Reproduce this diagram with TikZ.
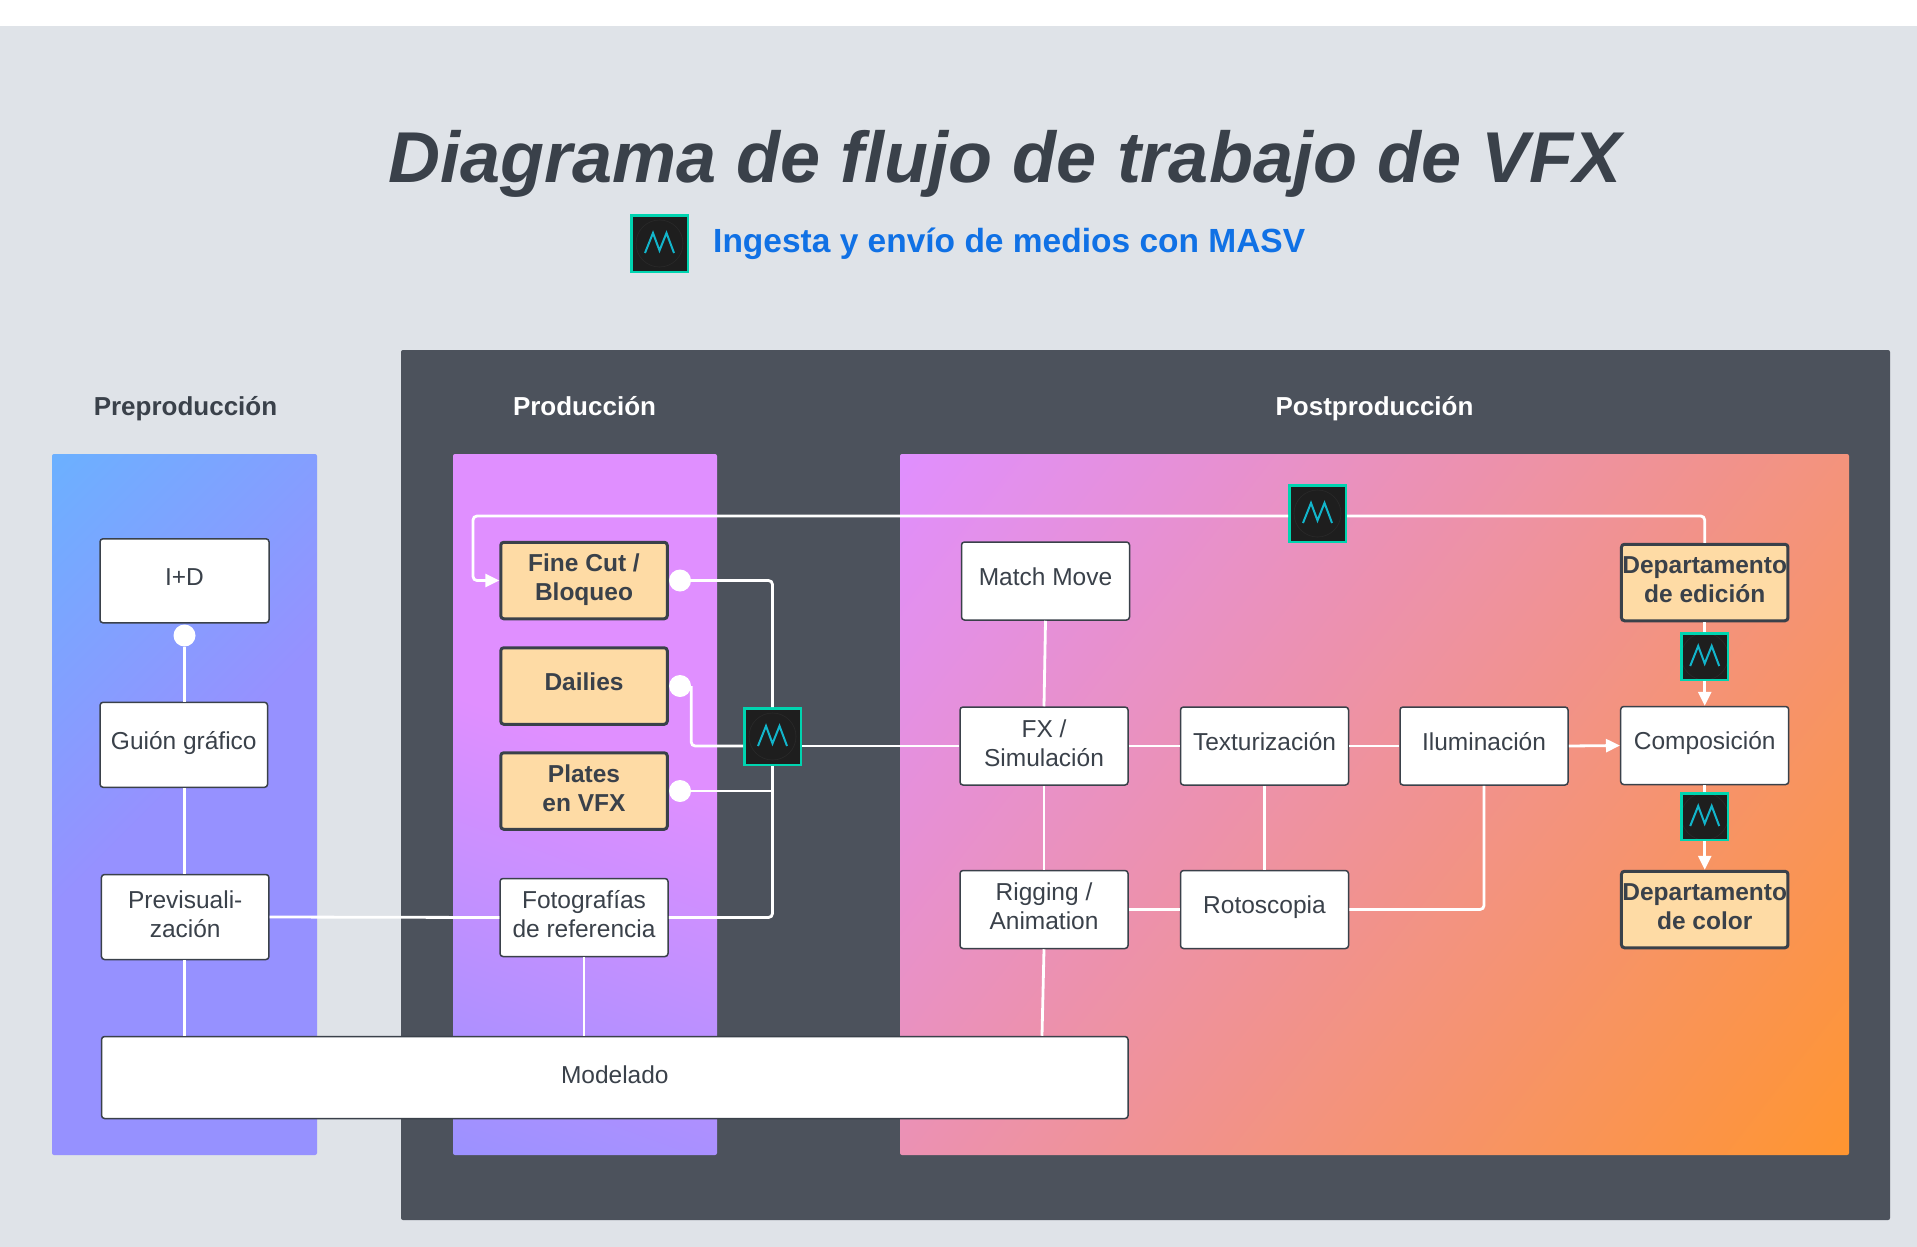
\documentclass[tikz,border=0pt]{standalone}
\usepackage{fontspec}
\setmainfont{Liberation Sans}
\usetikzlibrary{positioning,arrows.meta}

\definecolor{pagegray}{HTML}{DFE3E8}
\definecolor{paneldark}{HTML}{4C525C}
\definecolor{inkdark}{HTML}{3A414A}
\definecolor{keyfill}{HTML}{FEDBA5}
\definecolor{masvdark}{HTML}{1E1E1E}
\definecolor{masvring}{HTML}{2A2A2A}
\definecolor{masvgreen}{HTML}{00D4B0}
\definecolor{masvcyan}{HTML}{12B5CB}
\definecolor{subblue}{HTML}{1071E5}
\definecolor{skyblue}{HTML}{6CB0FF}
\definecolor{violet}{HTML}{9691FF}
\definecolor{pinkish}{HTML}{E08FFF}
\definecolor{orangish}{HTML}{FF9530}

\pgfdeclarehorizontalshading{prefill}{100bp}{color(0bp)=(skyblue); color(15bp)=(skyblue); color(48bp)=(violet); color(100bp)=(violet)}
\pgfdeclarehorizontalshading{prodfill}{100bp}{color(0bp)=(violet); color(15bp)=(violet); color(55bp)=(pinkish); color(100bp)=(pinkish)}
\pgfdeclarehorizontalshading{postfill}{100bp}{color(0bp)=(pinkish); color(15bp)=(pinkish); color(85bp)=(orangish); color(100bp)=(orangish)}

\newcommand{\tx}[1]{\begin{tabular}{@{}c@{}}#1\end{tabular}}
\newcommand{\txone}[1]{\tx{#1\\[3pt]}}

\begin{document}
\begin{tikzpicture}
    [%%%%%%%%%%%%%%%%%%%%%%%%%%%%%%
    x=1pt,y=-1pt,
    box/.style={rectangle,draw=inkdark,line width=1.5pt,fill=white,rounded corners=3pt,inner sep=0pt,
        text=inkdark,minimum width=168pt,minimum height=78pt,font=\fontsize{24.5}{29}\selectfont},
    keybox/.style={box,fill=keyfill,line width=3pt,minimum width=166.5pt,minimum height=76.5pt,font=\fontsize{24.5}{29}\selectfont\bfseries},
    head/.style={text=white,font=\fontsize{26}{30}\selectfont\bfseries},
    dot/.style={circle,fill=white,minimum size=22pt,inner sep=0pt},
    wire/.style={draw=white,line width=2.8pt},
    tip/.style={wire,-{Stealth[inset=0pt,length=14pt,width=13pt]}},
    masv/.style={rectangle,draw=masvgreen,line width=2.5pt,fill=masvdark,minimum size=#1,inner sep=0pt,
        path picture={
            \begin{scope}[shift={(path picture bounding box.center)},scale=#1/56.5]
                \draw[masvring,line width=0.6pt] (0,0) circle (23.5);
                \draw[masvcyan,line width=2pt] (-14.5,9.5) -- (-6.5,-10.5) -- (0,7) -- (7,-10.5) -- (14.5,9.5);
            \end{scope}
        }},
    ]%%%%%%%%%%%%%%%%%%%%%%%%%%%%%%

    \useasboundingbox (0,0) rectangle (1917,1247);
    \fill[white] (0,0) rectangle (1917,1247);
    \fill[pagegray] (0,26) rectangle (1917,1247);
    \fill[paneldark,rounded corners=2pt] (401,350) rectangle (1890,1220);

    % panels
    \shade[shading=prefill,shading angle=-45,rounded corners=2pt] (52,454) rectangle (317,1155);
    \shade[shading=prodfill,shading angle=70,rounded corners=2pt] (453,454) rectangle (717,1155);
    \shade[shading=postfill,shading angle=-38,rounded corners=2pt] (900,454) rectangle (1849,1155);

    % title
    \node[text=inkdark,font=\fontsize{72}{80}\selectfont\bfseries\itshape] at (1005,164)(title){Diagrama de flujo de trabajo de VFX};
    \node[masv=56.5pt] at (659.5,243.5)(masvhead){};
    \node[right=24pt of masvhead,text=subblue,font=\fontsize{33.5}{38}\selectfont\bfseries,inner sep=0pt,yshift=-0.5pt](subtitle){Ingesta y envío de medios con MASV};

    % headings
    \node[head,text=inkdark] at (185.5,409)(prehead){Preproducción};
    \node[head] at (584.5,406)(prodhead){Producción};
    \node[head] at (1374.5,409)(posthead){Postproducción};

    % preproduccion
    \node[box,minimum width=169pt,minimum height=84pt] at (184.5,580.8)(idbox){\txone{I+D}};
    \node[box,minimum width=167.5pt,minimum height=85pt] at (183.8,744.8)(guion){\txone{Guión gráfico}};
    \node[box,minimum width=167.5pt,minimum height=85pt] at (185.2,917)(previs){\tx{Previsuali-\\zación}};
    \node[box,minimum width=1026.5pt,minimum height=82pt] at (614.8,1077.5)(modelado){\tx{Modelado}};
    \node[dot] at (184.5,635.5)(dotid){};

    % produccion
    \node[keybox] at (584,580.5)(fine){\tx{Fine Cut /\\Bloqueo}};
    \node[keybox] at (584,686)(dailies){\txone{Dailies}};
    \node[keybox] at (584,791)(plates){\tx{Plates\\en VFX}};
    \node[box] at (584,917.5)(foto){\tx{Fotografías\\de referencia}};
    \node[dot] at (680,580.5)(dotfine){};
    \node[dot] at (680,686)(dotdailies){};
    \node[dot] at (680,791)(dotplates){};
    \node[masv=56.5pt] at (772.5,736.5)(masvprod){};

    % postproduccion
    \node[box] at (1045.5,581)(match){\txone{Match Move}};
    \node[box] at (1044,746)(fx){\tx{FX /\\Simulación}};
    \node[box] at (1264.5,746)(textur){\txone{Texturización}};
    \node[box] at (1484,746)(ilum){\txone{Iluminación}};
    \node[box] at (1704.7,745.5)(compo){\txone{Composición}};
    \node[box] at (1044,909.5)(rigging){\tx{Rigging /\\Animation}};
    \node[box] at (1264.5,909.5)(roto){\txone{Rotoscopia}};
    \node[keybox] at (1704.7,582.5)(edicion){\tx{Departamento\\de edición}};
    \node[keybox] at (1704.7,909.5)(color){\tx{Departamento\\de color}};
    \node[masv=56.5pt] at (1317.5,513.5)(masvtop){};
    \node[masv=46.5pt] at (1704.7,656.5)(masvedit){};
    \node[masv=46.5pt] at (1704.7,816.5)(masvcolor){};

    \coordinate (topline) at (0,516);
    \coordinate (fineturn) at (473,516);

    % wires on the left
    \draw[wire] (dotid) -- (guion.north -| dotid);
    \draw[wire] (guion.south -| dotid) -- (previs.north -| dotid);
    \draw[wire] (previs.south -| dotid) -- (modelado.north -| dotid);
    \draw[wire] (previs.east) -- (foto.west);
    \draw[wire] (foto.south) -- (modelado.north -| foto.south);

    % wires into the upload
    \draw[wire,rounded corners=4pt] (dotfine) -| (masvprod.north);
    \draw[wire,rounded corners=4pt] (dotdailies.east) |- (masvprod.west |- fx.west);
    \draw[wire] (dotplates) -- (masvprod.south |- dotplates);
    \draw[wire,rounded corners=4pt] (foto.east) -| (masvprod.south);
    \draw[wire] (masvprod.east |- fx.west) -- (fx.west);

    % return to fine cut
    \draw[wire,rounded corners=4pt] (edicion.north) |- (masvtop.east |- topline);
    \draw[tip,rounded corners=4pt] (masvtop.west |- topline) -- (fineturn) |- (fine.west);

    % wires on the right
    \draw[wire] (match.south) -- (fx.north);
    \draw[wire] (fx.south) -- (rigging.north);
    \draw[wire] (rigging.south) -- ([xshift=-2pt]modelado.north -| rigging.south);
    \draw[wire] (fx.east) -- (textur.west);
    \draw[wire] (textur.east) -- (ilum.west);
    \draw[tip] (ilum.east) -- (compo.west);
    \draw[wire] (textur.south) -- (roto.north);
    \draw[wire] (rigging.east) -- (roto.west);
    \draw[wire,rounded corners=4pt] (roto.east) -| (ilum.south);
    \draw[wire] (edicion.south) -- (masvedit.north);
    \draw[tip] (masvedit.south) -- (compo.north);
    \draw[wire] (compo.south) -- (masvcolor.north);
    \draw[tip] (masvcolor.south) -- (color.north);
\end{tikzpicture}
\end{document}
